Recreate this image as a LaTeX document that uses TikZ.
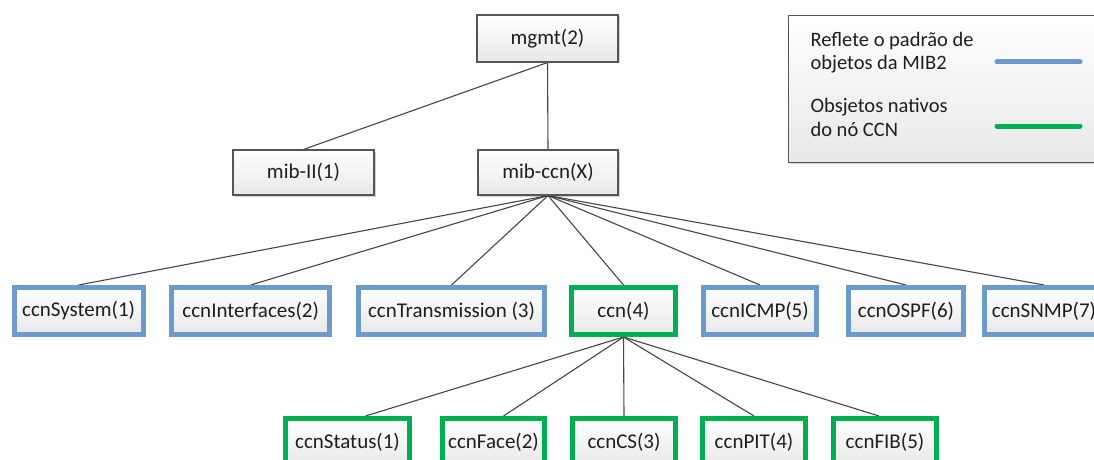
\documentclass[tikz,border=0pt]{standalone}
\usepackage{fontspec}
\setmainfont{Carlito}
\usetikzlibrary{shadows}
\pgfdeclarelayer{back}
\pgfdeclarelayer{bg}
\pgfsetlayers{back,bg,main}
\definecolor{mibblue}{RGB}{108,155,203}
\definecolor{ccngreen}{RGB}{0,176,80}
\definecolor{edgegray}{RGB}{70,70,70}
\definecolor{boxline}{RGB}{85,85,85}
\definecolor{txt}{RGB}{30,30,30}
\begin{document}
\begin{tikzpicture}[x=1pt,y=-1pt,
  every node/.style={font=\fontsize{21}{24}\selectfont, text=txt},
  basebox/.style={rectangle, inner sep=0pt, top color=white, bottom color=black!9,
    drop shadow={shadow xshift=1.5pt, shadow yshift=-1.5pt, opacity=0.18, fill=black}},
  plainbox/.style={basebox, draw=boxline, line width=1.1pt, minimum width=#1, minimum height=45pt},
  bluebox/.style={basebox, draw=mibblue, line width=5pt, minimum width=#1, minimum height=47pt},
  greenbox/.style={basebox, draw=ccngreen, line width=5pt, minimum width=#1, minimum height=47pt},
  edge/.style={draw=edgegray, line width=1.1pt},
  legendline/.style={line width=5pt, line cap=round},
  legendtext/.style={anchor=west, align=left, font=\fontsize{20.5}{23.5}\selectfont}
]
\useasboundingbox (0,0) rectangle (1094,460);
\clip (0,0) rectangle (1094,460);
\begin{pgfonlayer}{back}
  \fill[white] (0,0) rectangle (1094,460);
\end{pgfonlayer}

% top levels
\node[plainbox=141pt, minimum height=47pt] (mgmt) at (547.5,38.5) {mgmt(2)};
\node[plainbox=141pt] (mib2) at (303.5,172.5) {mib-II(1)};
\node[plainbox=140pt] (mibccn) at (548,172.5) {mib-ccn(X)};

% second level
\node[bluebox=129pt] (sys) at (78.6,311) {ccnSystem(1)};
\node[bluebox=158.5pt] (ifs) at (250.7,311) {ccnInterfaces(2)};
\node[bluebox=186pt] (trans) at (451.5,311) {ccnTransmission (3)};
\node[greenbox=104pt] (ccn) at (623.5,311) {ccn(4)};
\node[bluebox=113pt] (icmp) at (760,311) {ccnICMP(5)};
\node[bluebox=115pt] (ospf) at (906,311) {ccnOSPF(6)};
\node[bluebox=119pt] (snmp) at (1044,311) {ccnSNMP(7)};

% third level
\node[greenbox=124pt] (status) at (347.5,442) {ccnStatus(1)};
\node[greenbox=102pt] (face) at (493.5,442) {ccnFace(2)};
\node[greenbox=103pt] (cs) at (624,442) {ccnCS(3)};
\node[greenbox=102.5pt] (pit) at (754,442) {ccnPIT(4)};
\node[greenbox=103pt] (fib) at (885,442) {ccnFIB(5)};

% connectors
\begin{pgfonlayer}{bg}
  \draw[edge] (mgmt.south) -- (mib2.north);
  \draw[edge] (mgmt.south) -- (mibccn.north);
  \foreach \t in {sys,ifs,trans,ccn,icmp,ospf,snmp}
    \draw[edge] (mibccn.south) -- (\t.north);
  \draw[edge] (ccn.south) -- ([xshift=18pt]status.north);
  \draw[edge] (ccn.south) -- ([xshift=10pt]face.north);
  \draw[edge] (ccn.south) -- (cs.north);
  \draw[edge] (ccn.south) -- (pit.north);
  \draw[edge] (ccn.south) -- ([xshift=-6pt]fib.north);
\end{pgfonlayer}

% legend
\node[basebox, draw=boxline, line width=1.4pt, minimum width=322pt, minimum height=147pt,
  anchor=north west] (legend) at (788,15) {};
\node[legendtext] (l1) at (807,52.5) {Reflete o padrão de\\objetos da MIB2};
\node[legendtext] (l2) at (807,117.5) {Obsjetos nativos\\do nó CCN};
\coordinate (b1) at (997,62);
\coordinate (b2) at (1080,62);
\coordinate (g1) at (997,126);
\coordinate (g2) at (1080,126);
\draw[legendline, mibblue] (b1) -- (b2);
\draw[legendline, ccngreen] (g1) -- (g2);
\end{tikzpicture}
\end{document}
